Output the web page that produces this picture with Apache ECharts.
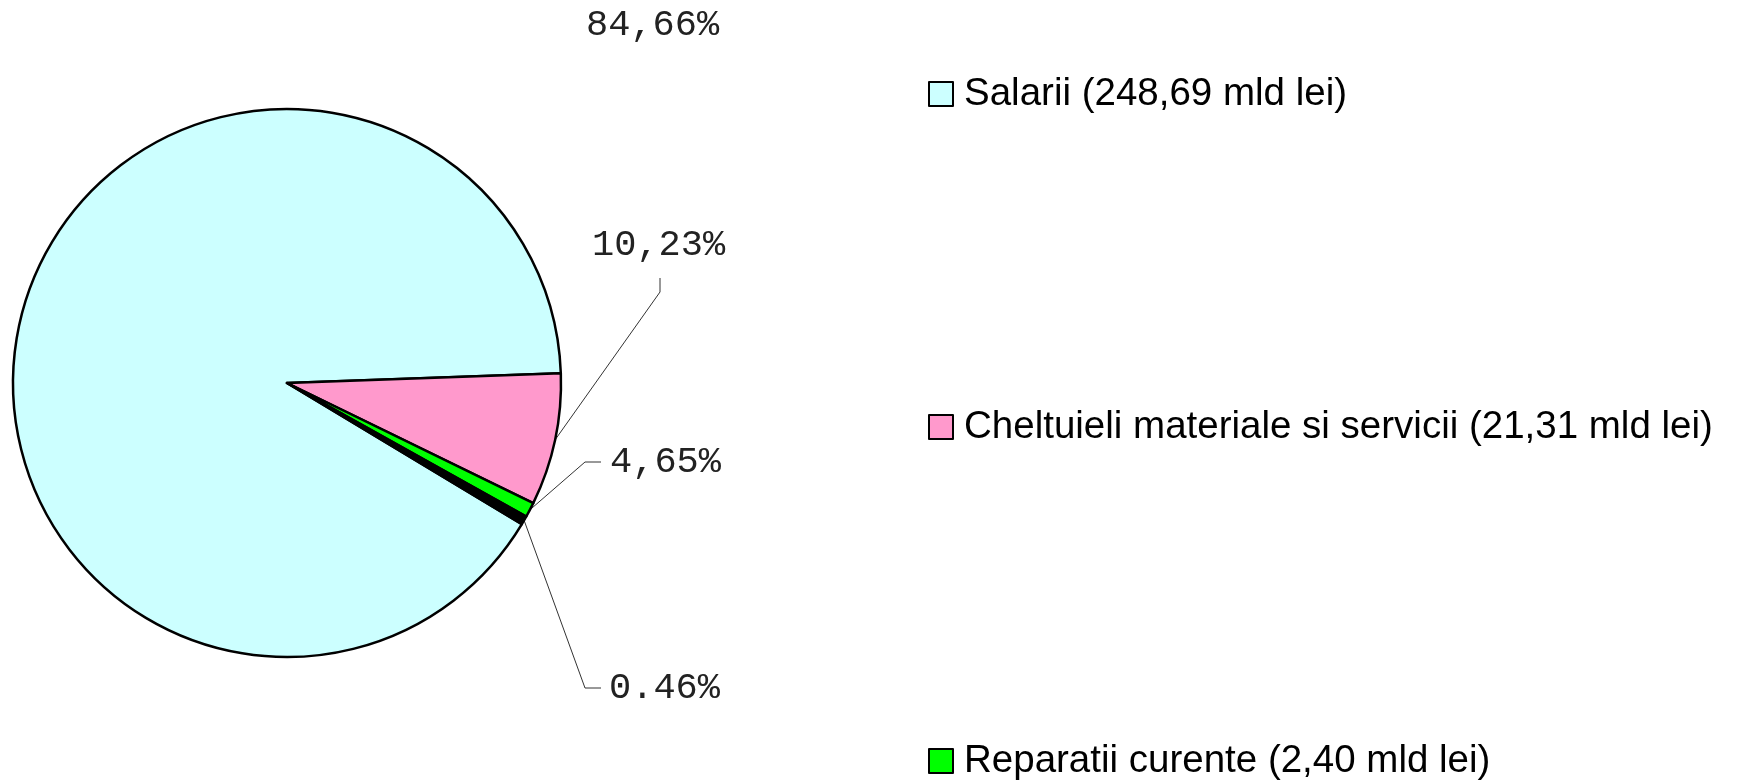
<!DOCTYPE html>
<html>
<head>
<meta charset="utf-8">
<script src="https://cdn.jsdelivr.net/npm/echarts@6/dist/echarts.min.js"></script>
<style>
html,body{margin:0;padding:0;background:#fff;}
#chart{width:1745px;height:782px;}
</style>
</head>
<body>
<div id="chart"></div>
<script>
// ---- data ----
const categories = [
  'Salarii (248,69 mld lei)',
  'Cheltuieli materiale si servicii (21,31 mld lei)',
  'Reparatii curente (2,40 mld lei)',
  'Altele'
];
const values = [248.69, 21.31, 2.40, 1.4];
const percentLabels = ['84,66%', '10,23%', '4,65%', '0.46%'];
const legendNames = categories.slice(0, 3);

// ---- style ----
const colors = ['#CCFFFF', '#FF99CC', '#00FF00', '#000000'];
const legendTops = [74, 407, 741];
const labelPlacement = [
  { x: 586, y: 25, bends: null },
  { x: 592, y: 245, bends: [[660, 292], [660, 278]] },
  { x: 610, y: 462, bends: [[585, 462], [601, 462]] },
  { x: 609, y: 688, bends: [[585, 688], [601, 688]] }
];

const legends = legendNames.map((name, i) => ({
  data: [name],
  orient: 'vertical',
  left: 928,
  top: legendTops[i],
  padding: 0,
  itemWidth: 24,
  itemHeight: 24,
  icon: 'rect',
  itemStyle: { borderColor: '#000', borderWidth: 2 },
  textStyle: {
    fontFamily: 'Liberation Sans, Arial, sans-serif',
    fontSize: 38.5,
    color: '#000',
    lineHeight: 40,
    padding: [0, 0, 0, 6]
  },
  selectedMode: false
}));

const chart = echarts.init(document.getElementById('chart'));
chart.setOption({
  animation: false,
  backgroundColor: '#ffffff',
  legend: legends,
  series: [{
    type: 'pie',
    center: [287, 383],
    radius: 274,
    startAngle: -31,
    clockwise: true,
    avoidLabelOverlap: false,
    emphasis: { disabled: true },
    itemStyle: { borderColor: '#000', borderWidth: 2.5 },
    label: {
      show: true,
      position: 'outside',
      fontFamily: 'Liberation Mono, Courier New, monospace',
      fontSize: 37,
      color: '#222',
      formatter: p => percentLabels[p.dataIndex]
    },
    labelLine: {
      show: true,
      lineStyle: { color: '#333', width: 1 }
    },
    labelLayout: function (params) {
      const pl = labelPlacement[params.dataIndex];
      const out = { x: pl.x, y: pl.y, align: 'left', verticalAlign: 'middle' };
      if (pl.bends && params.labelLinePoints) {
        out.labelLinePoints = [params.labelLinePoints[0]].concat(pl.bends);
      }
      return out;
    },
    data: values.map((v, i) => ({
      name: categories[i],
      value: v,
      itemStyle: { color: colors[i] },
      labelLine: { show: i !== 0 }
    }))
  }]
});
</script>
</body>
</html>
